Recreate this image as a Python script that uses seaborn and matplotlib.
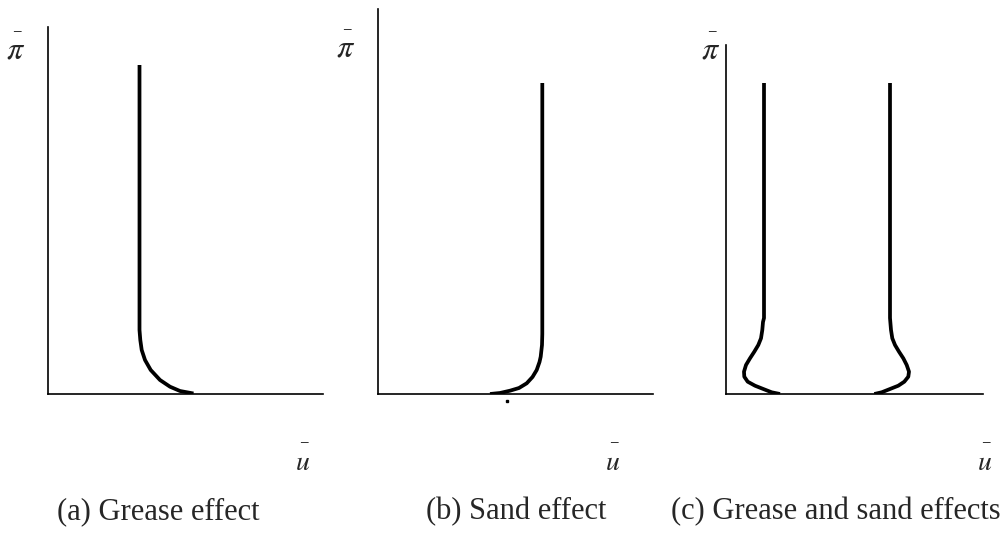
import matplotlib
matplotlib.use("Agg")
import matplotlib.pyplot as plt
import numpy as np
import pandas as pd
import seaborn as sns

# curve points (x = u, y = pi, in axis units)
grease_u = [91.5, 91.5, 92.3, 93.7, 97, 102.7, 112, 122, 132, 145.5]
grease_pi = [329, 64, 54, 44, 34, 24, 14, 7.3, 3, 0.5]

sand_u = [164.3, 164.3, 164, 162.7, 161.5, 158.7, 154.5, 148.7, 141, 132, 122, 112]
sand_pi = [311, 60, 49, 37.3, 32, 24, 17, 10.7, 6, 3.3, 1, 0]

both_left_u = [38, 38, 37, 36.3, 35, 32.3, 28.3, 24, 20, 18, 18.3, 21.7, 29, 37.3, 45.7, 54]
both_left_pi = [311, 76, 72, 64, 55.7, 49, 42.3, 35.7, 29, 22.3, 17.3, 12.3, 8.3, 5, 1.7, 0]
both_right_u = [164, 164, 165, 166.3, 169, 173, 177.3, 180.7, 183, 182.3, 178.3, 172.3, 164, 155.7, 148.3]
both_right_pi = [311, 76, 64, 55.7, 49, 42.3, 35.7, 29, 22.3, 17.3, 12.3, 8.3, 5, 1.7, 0]

captions = ["(a) Grease effect", "(b) Sand effect", "(c) Grease and sand effects"]

sns.set_theme(style="white")
plt.rcParams["font.family"] = ["Liberation Serif", "DejaVu Serif"]
plt.rcParams["mathtext.fontset"] = "stix"

W, H = 1003, 543
fig = plt.figure(figsize=(W / 100, H / 100), dpi=100)


def px(x, y):
    return x / W, 1 - y / H


def make_ax(left, top, right, bottom=394):
    ax = fig.add_axes([left / W, 1 - bottom / H, (right - left) / W, (bottom - top) / H])
    ax.set_xlim(0, right - left)
    ax.set_ylim(0, bottom - top)
    for s in ["top", "right"]:
        ax.spines[s].set_visible(False)
    for s in ["left", "bottom"]:
        ax.spines[s].set_color("black")
        ax.spines[s].set_linewidth(1.2)
    ax.set_xticks([])
    ax.set_yticks([])
    ax.patch.set_alpha(0)
    return ax


lw = 2.7
ax1 = make_ax(48, 27, 323)
sns.lineplot(x=grease_u, y=grease_pi, sort=False, estimator=None, color="black", lw=lw, ax=ax1)

ax2 = make_ax(378, 9, 653)
sns.lineplot(x=sand_u, y=sand_pi, sort=False, estimator=None, color="black", lw=lw, ax=ax2)
ax2.plot([128.7], [-6.7], marker="s", ms=1.6, color="black", clip_on=False)

ax3 = make_ax(726, 45, 983)
sns.lineplot(x=both_left_u, y=both_left_pi, sort=False, estimator=None, color="black", lw=lw, ax=ax3)
sns.lineplot(x=both_right_u, y=both_right_pi, sort=False, estimator=None, color="black", lw=lw, ax=ax3)

for ax in (ax1, ax2, ax3):
    for ln in ax.get_lines():
        ln.set_solid_capstyle("butt")
        ln.set_solid_joinstyle("round")
    ax.set_xlabel("")
    ax.set_ylabel("")

# axis symbols: italic letter with a detached bar above
for x, y in [(16, 51), (346, 49), (711, 51)]:
    fig.text(*px(x, y), r"$\pi$", fontsize=23, ha="center", va="center")
    fig.text(*px(x + 1, y - 21), r"$-$", fontsize=10, ha="center", va="center")
for x, y in [(303, 463), (613, 463), (985, 463)]:
    fig.text(*px(x, y), r"$u$", fontsize=20, ha="center", va="center")
    fig.text(*px(x + 1, y - 22), r"$-$", fontsize=10, ha="center", va="center")

for x, t in zip([158, 516, 836], captions):
    fig.text(*px(x, 512), t, fontsize=22, ha="center", va="center")

fig.savefig("out.png", dpi=100)
